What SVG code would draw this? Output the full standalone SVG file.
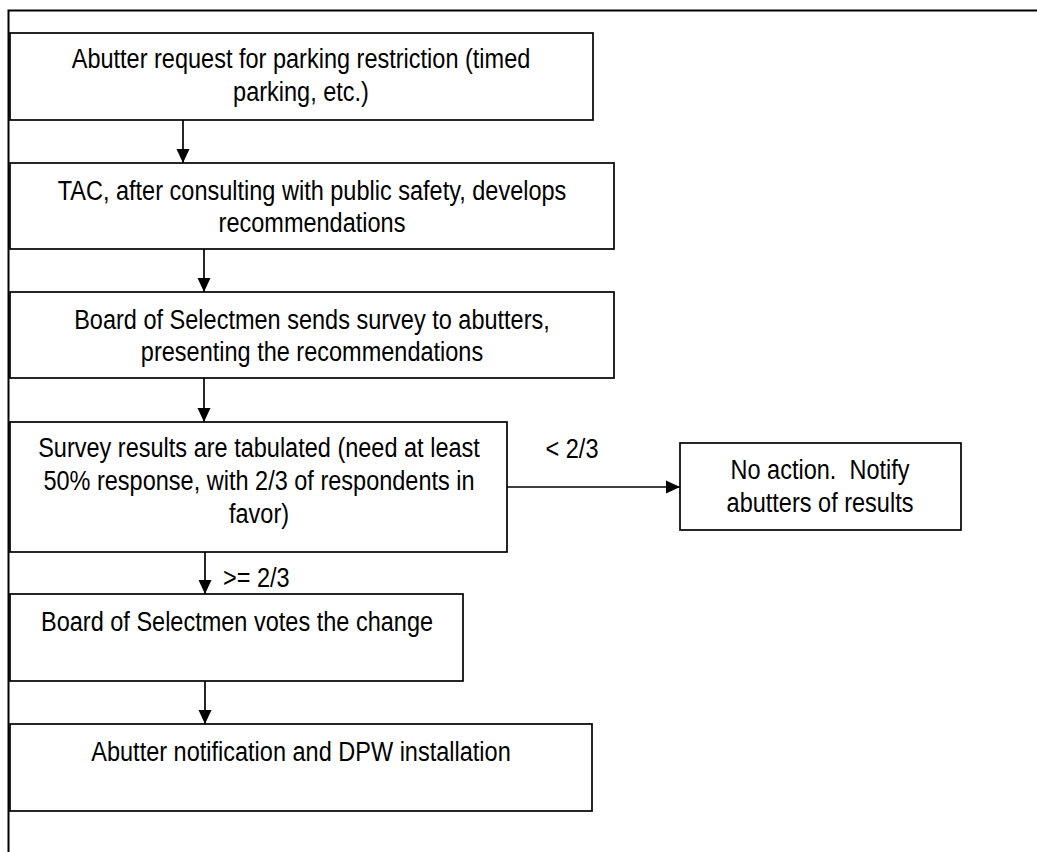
<svg xmlns="http://www.w3.org/2000/svg" width="1037" height="852" viewBox="0 0 1037 852">
<style>
.box{fill:#fff;stroke:#000;stroke-width:1.7}
.t{font-family:"Liberation Sans",Arial,sans-serif;font-size:28px;fill:#000;text-anchor:middle}
.s{text-anchor:start}
.c{stroke:#000;stroke-width:1.7;fill:none}
</style>
<defs>
<marker id="ah" markerUnits="userSpaceOnUse" markerWidth="14" markerHeight="14" viewBox="0 0 14 14" refX="14" refY="7" orient="auto">
<path d="M0,0.5 L14,7 L0,13.5 Z" fill="#000"/>
</marker>
</defs>
<rect width="1037" height="852" fill="#fff"/>
<g id="frame">
<path d="M1037,10.5 H8.5 V852" fill="none" stroke="#000" stroke-width="2"/>
</g>
<g id="n1">
<rect class="box" x="10" y="33" width="583" height="87"/>
<text class="t" transform="translate(301 68) scale(0.84 1)">Abutter request for parking restriction (timed</text>
<text class="t" transform="translate(301 101) scale(0.84 1)">parking, etc.)</text>
</g>
<g id="n2">
<rect class="box" x="10" y="163" width="604" height="86"/>
<text class="t" transform="translate(312 200) scale(0.84 1)">TAC, after consulting with public safety, develops</text>
<text class="t" transform="translate(312 232) scale(0.84 1)">recommendations</text>
</g>
<g id="n3">
<rect class="box" x="10" y="292" width="604" height="86"/>
<text class="t" transform="translate(312 329) scale(0.84 1)">Board of Selectmen sends survey to abutters,</text>
<text class="t" transform="translate(312 361) scale(0.84 1)">presenting the recommendations</text>
</g>
<g id="n4">
<rect class="box" x="10" y="422" width="497" height="130"/>
<text class="t" transform="translate(259 457) scale(0.84 1)">Survey results are tabulated (need at least</text>
<text class="t" transform="translate(259 490) scale(0.84 1)">50% response, with 2/3 of respondents in</text>
<text class="t" transform="translate(259 523) scale(0.84 1)">favor)</text>
</g>
<g id="n5">
<rect class="box" x="680" y="443" width="281" height="87"/>
<text class="t" transform="translate(820 479) scale(0.84 1)" xml:space="preserve">No action.  Notify</text>
<text class="t" transform="translate(820 512) scale(0.84 1)">abutters of results</text>
</g>
<g id="n6">
<rect class="box" x="10" y="594" width="453" height="87"/>
<text class="t" transform="translate(237 631) scale(0.84 1)">Board of Selectmen votes the change</text>
</g>
<g id="n7">
<rect class="box" x="10" y="724" width="582" height="87"/>
<text class="t" transform="translate(301 761) scale(0.84 1)">Abutter notification and DPW installation</text>
</g>
<g id="connectors">
<line class="c" x1="183" y1="120" x2="183" y2="163" marker-end="url(#ah)"/>
<line class="c" x1="204" y1="249" x2="204" y2="292" marker-end="url(#ah)"/>
<line class="c" x1="204" y1="378" x2="204" y2="422" marker-end="url(#ah)"/>
<line class="c" x1="205" y1="552" x2="205" y2="594" marker-end="url(#ah)"/>
<line class="c" x1="205" y1="681" x2="205" y2="724" marker-end="url(#ah)"/>
<line class="c" x1="507" y1="487" x2="680" y2="487" marker-end="url(#ah)"/>
<text class="t" transform="translate(572 458) scale(0.84 1)">&lt; 2/3</text>
<text class="t s" transform="translate(223 587) scale(0.84 1)">&gt;= 2/3</text>
</g>
</svg>
